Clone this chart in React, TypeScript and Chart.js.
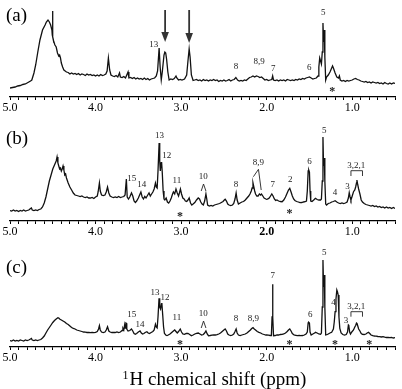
import React, { useEffect, useRef } from "react";
import { Chart, registerables } from "chart.js";

Chart.register(...registerables);

const SERIF = '"Liberation Serif", "Times New Roman", serif';

type Pt = [number, number];
type Label = [string, number, number];

// ---- Spectrum (a): [ppm, intensity] ----
const specA: Pt[] = [
  [5.0, 9], [4.97, 9.5], [4.94, 10], [4.91, 11], [4.88, 11.5], [4.85, 12.5], [4.82, 13], [4.79, 14.5],
  [4.76, 16], [4.745, 17], [4.72, 24], [4.7, 32], [4.675, 45], [4.65, 57], [4.62, 67], [4.59, 72],
  [4.575, 75], [4.556, 77], [4.54, 75], [4.525, 72], [4.51, 67], [4.506, 62], [4.503, 86], [4.499, 60],
  [4.49, 56], [4.475, 52], [4.46, 50], [4.445, 44], [4.43, 41], [4.42, 42], [4.41, 39], [4.4, 34],
  [4.385, 30], [4.37, 27], [4.355, 26], [4.34, 25], [4.32, 24.5], [4.3, 23], [4.28, 24], [4.26, 23],
  [4.24, 23.5], [4.22, 22.5], [4.2, 23.5], [4.18, 22], [4.16, 23], [4.14, 22.5], [4.12, 21.5], [4.1, 23],
  [4.08, 22], [4.06, 22.5], [4.04, 21.5], [4.02, 22], [4.0, 21], [3.98, 22], [3.96, 21], [3.94, 22.5],
  [3.92, 21.5], [3.9, 22], [3.88, 23], [3.865, 26], [3.85, 39], [3.835, 27], [3.82, 22], [3.8, 21],
  [3.78, 20.5], [3.76, 21.5], [3.74, 20], [3.72, 24], [3.71, 20], [3.69, 19.5], [3.67, 20.5], [3.65, 19],
  [3.62, 25], [3.61, 19], [3.59, 19.5], [3.57, 18.5], [3.55, 19.5], [3.53, 18], [3.51, 19], [3.49, 18],
  [3.47, 18.5], [3.45, 17.5], [3.43, 19], [3.41, 17.5], [3.39, 18.5], [3.37, 17], [3.35, 18], [3.33, 18.5],
  [3.31, 19], [3.29, 21], [3.275, 26], [3.257, 49], [3.245, 30], [3.232, 17], [3.22, 25], [3.2, 42],
  [3.19, 45], [3.18, 44], [3.17, 38], [3.155, 25], [3.14, 17], [3.12, 18], [3.1, 17.5], [3.08, 18.5],
  [3.06, 21], [3.05, 19], [3.03, 17], [3.01, 17.5], [2.99, 17], [2.96, 18], [2.935, 22], [2.92, 36],
  [2.906, 48], [2.895, 40], [2.88, 22], [2.86, 16.5], [2.84, 17], [2.82, 17.5], [2.8, 16.5], [2.78, 17],
  [2.76, 16], [2.74, 17.5], [2.72, 16.5], [2.7, 17], [2.68, 16], [2.66, 17], [2.64, 16.5], [2.62, 17.5],
  [2.6, 16.5], [2.58, 17], [2.56, 15.5], [2.54, 16.5], [2.52, 16], [2.5, 17], [2.48, 16], [2.46, 16.5],
  [2.44, 17.5], [2.42, 16], [2.4, 17], [2.38, 17.5], [2.36, 19.5], [2.34, 17], [2.32, 16], [2.3, 16.5],
  [2.28, 16], [2.26, 17], [2.24, 16.5], [2.22, 18], [2.2, 19.5], [2.18, 20], [2.16, 21], [2.14, 20],
  [2.12, 21], [2.1, 20.5], [2.08, 19.5], [2.06, 20], [2.04, 18.5], [2.02, 17], [2.0, 17.5], [1.98, 16.5],
  [1.96, 17], [1.94, 17.5], [1.93, 21], [1.92, 17], [1.9, 16.5], [1.88, 17], [1.86, 16], [1.84, 17],
  [1.82, 16.5], [1.8, 17], [1.78, 16], [1.76, 17.5], [1.74, 17], [1.72, 16.5], [1.7, 17], [1.68, 16.5],
  [1.66, 17.5], [1.64, 17], [1.62, 18], [1.6, 17.5], [1.58, 18.5], [1.56, 18], [1.54, 19], [1.52, 19.5],
  [1.5, 20], [1.48, 19], [1.46, 18], [1.44, 18.5], [1.42, 19], [1.4, 21], [1.39, 30], [1.38, 39],
  [1.37, 36], [1.36, 33], [1.35, 45], [1.342, 74], [1.335, 55], [1.327, 67], [1.32, 40], [1.31, 17],
  [1.3, 20], [1.28, 22], [1.26, 25], [1.24, 29], [1.23, 31], [1.22, 29], [1.2, 24], [1.18, 20],
  [1.16, 19], [1.15, 21], [1.14, 17], [1.12, 16], [1.1, 16.5], [1.08, 15.5], [1.06, 16.5], [1.04, 16],
  [1.02, 16.5], [1.0, 17], [0.98, 18], [0.96, 18.5], [0.94, 17.5], [0.92, 17], [0.9, 16], [0.88, 15.5],
  [0.86, 15], [0.84, 15.5], [0.82, 14.5], [0.8, 15], [0.78, 14], [0.76, 15], [0.74, 14.5], [0.72, 14],
  [0.7, 14.5], [0.68, 13.5], [0.66, 14], [0.64, 13], [0.62, 14.5], [0.6, 13.5], [0.58, 13], [0.56, 14],
  [0.54, 13], [0.52, 14], [0.5, 13.5],
];
const labelsA: Label[] = [
  ["13", 3.32, 52.5], ["8", 2.357, 30], ["8,9", 2.088, 35], ["7", 1.924, 28], ["6", 1.503, 29], ["5", 1.34, 84],
];
const starsA: Pt[] = [[1.234, 8]];
// [ppm, top, tip]
const arrowsA: [number, number, number][] = [[3.187, 87, 55], [2.906, 87, 54]];

// ---- Spectrum (b) ----
const specB: Pt[] = [
  [5.0, 10.5], [4.98, 10], [4.96, 11], [4.94, 10], [4.92, 10.5], [4.9, 9.5], [4.88, 10.5], [4.86, 10],
  [4.84, 11], [4.82, 10], [4.8, 10.5], [4.78, 11], [4.76, 12.5], [4.75, 13], [4.74, 11], [4.72, 10.5],
  [4.7, 11], [4.68, 10.5], [4.66, 11.5], [4.64, 12], [4.62, 14], [4.6, 18], [4.58, 24], [4.56, 32],
  [4.54, 40], [4.52, 46], [4.5, 52], [4.48, 56], [4.47, 58], [4.46, 60], [4.45, 64], [4.44, 58],
  [4.43, 55], [4.42, 52], [4.41, 53], [4.4, 50], [4.39, 52], [4.38, 55], [4.37, 51], [4.36, 46],
  [4.35, 47], [4.34, 43], [4.32, 38], [4.3, 34], [4.28, 31], [4.26, 28], [4.24, 26], [4.22, 25.5],
  [4.2, 25], [4.18, 24.5], [4.16, 25], [4.14, 24], [4.12, 23.5], [4.1, 24], [4.08, 23], [4.06, 23],
  [4.04, 23.5], [4.02, 22.5], [4.0, 24], [3.98, 25], [3.97, 29], [3.955, 38], [3.945, 30], [3.93, 26],
  [3.91, 25.5], [3.89, 26], [3.875, 29], [3.86, 34], [3.845, 28], [3.83, 25], [3.81, 24], [3.79, 23.5],
  [3.77, 24], [3.75, 23.5], [3.73, 24.5], [3.71, 23.5], [3.69, 24], [3.67, 24.5], [3.655, 26], [3.64, 42],
  [3.63, 24], [3.615, 22], [3.6, 24], [3.58, 28], [3.565, 25], [3.55, 20], [3.535, 18.5], [3.52, 20],
  [3.5, 23], [3.485, 26], [3.47, 29], [3.455, 24], [3.44, 22], [3.425, 24.5], [3.41, 23], [3.39, 26],
  [3.375, 28], [3.36, 25], [3.345, 27], [3.33, 29], [3.315, 32], [3.3, 38], [3.29, 34], [3.28, 33],
  [3.27, 50], [3.257, 78], [3.25, 60], [3.243, 50], [3.235, 58], [3.228, 59], [3.22, 48], [3.21, 30],
  [3.2, 22], [3.19, 21], [3.175, 23], [3.16, 19], [3.145, 18], [3.13, 20], [3.115, 23], [3.1, 27],
  [3.09, 29], [3.075, 27], [3.06, 32], [3.045, 28], [3.03, 25], [3.02, 28], [3.008, 32], [2.995, 27],
  [2.98, 23], [2.965, 22], [2.95, 20], [2.935, 19.5], [2.92, 21], [2.906, 23], [2.89, 18], [2.875, 16],
  [2.86, 17], [2.84, 18.5], [2.82, 21], [2.8, 23], [2.785, 22], [2.77, 19], [2.755, 17], [2.74, 16],
  [2.725, 20], [2.71, 27], [2.7, 22], [2.69, 16], [2.67, 15], [2.65, 15.5], [2.63, 15], [2.61, 16],
  [2.59, 16.5], [2.57, 17], [2.55, 17.5], [2.53, 18.5], [2.51, 19.5], [2.495, 21], [2.485, 21.7], [2.47, 20],
  [2.455, 17], [2.44, 16], [2.42, 15.5], [2.4, 16], [2.385, 17.5], [2.37, 22], [2.357, 28], [2.345, 21],
  [2.33, 17], [2.31, 18], [2.29, 19], [2.27, 19.5], [2.25, 21], [2.23, 23], [2.21, 25], [2.195, 27],
  [2.18, 30], [2.17, 33], [2.16, 38], [2.15, 34], [2.14, 30], [2.13, 27], [2.115, 25], [2.1, 25],
  [2.085, 27], [2.07, 26], [2.06, 27], [2.045, 25], [2.03, 23], [2.01, 22], [2.0, 21.7], [1.985, 22],
  [1.97, 23], [1.955, 25], [1.94, 27], [1.925, 25], [1.91, 22], [1.895, 20.5], [1.88, 21], [1.86, 20],
  [1.84, 19.5], [1.82, 19.3], [1.8, 21], [1.78, 24], [1.76, 28], [1.745, 31], [1.73, 32.7], [1.715, 29],
  [1.7, 25], [1.685, 22], [1.67, 20.5], [1.65, 19.5], [1.63, 19], [1.61, 18.3], [1.59, 18.5], [1.57, 19],
  [1.55, 19.3], [1.535, 20], [1.525, 30], [1.515, 50], [1.508, 51], [1.5, 49], [1.493, 30], [1.485, 20],
  [1.47, 19.5], [1.45, 21], [1.43, 22.7], [1.41, 21.5], [1.39, 21], [1.37, 21], [1.36, 22], [1.35, 40],
  [1.342, 84], [1.335, 55], [1.327, 63], [1.32, 40], [1.31, 17], [1.3, 16], [1.28, 17.5], [1.26, 18],
  [1.24, 19], [1.22, 19.5], [1.2, 20.3], [1.18, 19], [1.16, 18], [1.14, 17.5], [1.12, 18], [1.1, 17.5],
  [1.08, 18], [1.06, 19], [1.045, 23], [1.035, 28.3], [1.025, 24], [1.015, 21], [1.0, 25], [0.985, 29.3],
  [0.97, 31], [0.96, 34], [0.95, 38], [0.945, 41], [0.935, 36], [0.925, 32], [0.91, 27], [0.895, 21],
  [0.88, 19], [0.86, 17.5], [0.84, 16.5], [0.82, 16], [0.8, 15.5], [0.78, 15], [0.76, 15.5], [0.74, 14.5],
  [0.72, 15], [0.7, 14], [0.68, 14.5], [0.66, 13.5], [0.64, 14], [0.62, 13], [0.6, 14], [0.58, 13],
  [0.56, 13.5], [0.54, 12.5], [0.52, 13.5], [0.5, 12.5],
];
const labelsB: Label[] = [
  ["15", 3.577, 42.7], ["14", 3.46, 36], ["13", 3.254, 85], ["12", 3.167, 65], ["11", 3.05, 40],
  ["10", 2.74, 44], ["8", 2.357, 36], ["8,9", 2.096, 58.3], ["7", 1.928, 36], ["2", 1.725, 41.7],
  ["6", 1.5, 59.3], ["5", 1.327, 90.3], ["4", 1.2, 28.3], ["3", 1.055, 34.3], ["3,2,1", 0.953, 55],
];
const starsB: Pt[] = [[3.012, 7], [1.733, 10.3]];
// inverted-V markers: [left ppm, apex ppm, right ppm, apex h, left h, right h]
const caretsB: number[][] = [
  [2.765, 2.738, 2.71, 37, 30, 30],
  [2.155, 2.096, 2.064, 51.7, 44.3, 31],
];
// brackets: [left ppm, right ppm, h, end h]
const bracketsB: number[][] = [[1.015, 0.88, 50.3, 45]];

// ---- Spectrum (c) ----
const specC: Pt[] = [
  [5.0, 6.5], [4.98, 6], [4.96, 7], [4.94, 6], [4.92, 6.5], [4.9, 6], [4.88, 7], [4.86, 6.5],
  [4.84, 6], [4.82, 7], [4.8, 6.5], [4.78, 7], [4.76, 8], [4.75, 8.5], [4.74, 7], [4.72, 6.5],
  [4.7, 7], [4.68, 6.5], [4.66, 7], [4.64, 7.5], [4.62, 9], [4.6, 11], [4.58, 14], [4.56, 17],
  [4.54, 19.5], [4.52, 22], [4.5, 24.5], [4.48, 26.5], [4.46, 28], [4.44, 29.3], [4.43, 29], [4.42, 28],
  [4.41, 27.5], [4.4, 27], [4.39, 26.5], [4.37, 25.5], [4.36, 25], [4.34, 23.5], [4.32, 22.5], [4.3, 21],
  [4.28, 19.5], [4.26, 18.7], [4.24, 18], [4.22, 17], [4.2, 16.5], [4.18, 16], [4.16, 15.5], [4.14, 15],
  [4.12, 14.8], [4.1, 14.5], [4.08, 14.5], [4.06, 14.3], [4.04, 14.5], [4.02, 14.3], [4.0, 14.7], [3.98, 15.5],
  [3.965, 18], [3.955, 21.3], [3.945, 17], [3.93, 15], [3.91, 14.5], [3.89, 15], [3.875, 17], [3.86, 20.3],
  [3.845, 16], [3.83, 15], [3.81, 14.5], [3.79, 14.7], [3.77, 14.5], [3.75, 15], [3.73, 14.5], [3.71, 15],
  [3.69, 16.5], [3.68, 18.7], [3.67, 17], [3.66, 22], [3.655, 19], [3.645, 24], [3.64, 23.7], [3.635, 18],
  [3.62, 16], [3.6, 16.5], [3.58, 18], [3.565, 16], [3.55, 13.5], [3.535, 12.7], [3.52, 13.5], [3.5, 15],
  [3.48, 16], [3.465, 14], [3.45, 13], [3.435, 13.5], [3.42, 14.5], [3.4, 15.3], [3.385, 14], [3.37, 13.5],
  [3.35, 14.5], [3.33, 15.5], [3.315, 17], [3.3, 22.7], [3.29, 20], [3.28, 19], [3.27, 30], [3.258, 48.7],
  [3.25, 40], [3.24, 38], [3.23, 43], [3.225, 44], [3.215, 32], [3.205, 20], [3.195, 13.7], [3.18, 12],
  [3.165, 11.5], [3.15, 12], [3.13, 13], [3.11, 14.5], [3.09, 16], [3.075, 17], [3.06, 15.5], [3.045, 14],
  [3.03, 15.5], [3.01, 18], [2.995, 15], [2.98, 13], [2.96, 12.7], [2.94, 13.5], [2.92, 13.7], [2.9, 12.5],
  [2.88, 11.3], [2.86, 12], [2.84, 13], [2.82, 13.7], [2.8, 14], [2.78, 13], [2.76, 12], [2.74, 12.5],
  [2.725, 14], [2.71, 16], [2.695, 13], [2.68, 11.3], [2.66, 11.5], [2.64, 11.8], [2.62, 12], [2.6, 12],
  [2.58, 12.3], [2.56, 13], [2.54, 14], [2.52, 15.5], [2.5, 17], [2.485, 18], [2.47, 16], [2.455, 13],
  [2.44, 12], [2.42, 11.5], [2.4, 12], [2.385, 13], [2.37, 15.5], [2.357, 18], [2.345, 14], [2.33, 12],
  [2.31, 11.5], [2.29, 12], [2.27, 12.5], [2.25, 13], [2.23, 14], [2.21, 15.5], [2.19, 17], [2.175, 18.5],
  [2.16, 19.3], [2.145, 18], [2.13, 17], [2.11, 15.5], [2.09, 14.7], [2.07, 14], [2.05, 13], [2.03, 12.5],
  [2.01, 12], [2.0, 12], [1.98, 11.8], [1.96, 11.5], [1.945, 11.5], [1.937, 30], [1.932, 62.7], [1.926, 30],
  [1.92, 11.3], [1.9, 11.5], [1.88, 12], [1.86, 12], [1.84, 12.5], [1.82, 12.7], [1.8, 13], [1.78, 14],
  [1.76, 15.5], [1.745, 17], [1.73, 18], [1.715, 16], [1.7, 13.5], [1.68, 12], [1.66, 11.7], [1.64, 11.3],
  [1.62, 11.5], [1.6, 11.3], [1.58, 11.5], [1.56, 12], [1.54, 13], [1.525, 15], [1.515, 24], [1.508, 24.7],
  [1.5, 24], [1.493, 15], [1.48, 12], [1.46, 13], [1.44, 14], [1.43, 14.7], [1.41, 14], [1.39, 13],
  [1.37, 12.7], [1.36, 14], [1.35, 40], [1.342, 87], [1.335, 60], [1.327, 72], [1.32, 40], [1.31, 12],
  [1.29, 12.5], [1.27, 13.5], [1.25, 14.5], [1.24, 14.7], [1.22, 18], [1.21, 25], [1.2, 35.3], [1.19, 48],
  [1.18, 57], [1.172, 55], [1.164, 52], [1.155, 30], [1.145, 18.7], [1.13, 14], [1.11, 12.5], [1.09, 12],
  [1.07, 12.5], [1.055, 15], [1.045, 22], [1.04, 21.5], [1.03, 15], [1.02, 13], [1.005, 15], [0.985, 17],
  [0.97, 20], [0.96, 21.5], [0.95, 24], [0.945, 23.7], [0.935, 21], [0.925, 18], [0.91, 16], [0.895, 13.5],
  [0.88, 12.7], [0.86, 12.5], [0.84, 13], [0.825, 14], [0.81, 14.7], [0.795, 13.5], [0.78, 12], [0.76, 11.3],
  [0.74, 11], [0.72, 10.8], [0.7, 10.5], [0.68, 10.3], [0.66, 10], [0.64, 10.3], [0.62, 9.8], [0.6, 9.5],
  [0.58, 9.7], [0.56, 9.3], [0.54, 9.5], [0.52, 9], [0.5, 9.3],
];
const labelsC: Label[] = [
  ["15", 3.577, 32], ["14", 3.48, 22.7], ["13", 3.304, 54.3], ["12", 3.187, 49.7], ["11", 3.05, 29.3],
  ["10", 2.74, 33], ["8", 2.357, 28], ["8,9", 2.155, 28], ["7", 1.928, 71.3], ["6", 1.49, 32],
  ["5", 1.327, 94.7], ["4", 1.22, 44.7], ["3", 1.074, 26], ["3,2,1", 0.953, 40.3],
];
const starsC: Pt[] = [[3.012, 5.3], [1.733, 5.3], [1.2, 5.3], [0.8, 5.3]];
const caretsC: number[][] = [[2.765, 2.738, 2.71, 26, 19, 19]];
const bracketsC: number[][] = [[1.015, 0.88, 35.3, 30.3]];

const PPM_LOW = 0.5;
const PPM_HIGH = 5.0;
const X_TITLE_SUP = "1";
const X_TITLE = "H chemical shift (ppm)";

interface PanelCfg {
  tag: string;
  tagY: number;
  top: number;
  height: number;
  axisH: number;
  spec: Pt[];
  labels: Label[];
  stars: Pt[];
  carets: number[][];
  brackets: number[][];
  arrows: [number, number, number][];
  boldTwo: boolean;
  xTitle: boolean;
}

const panels: PanelCfg[] = [
  { tag: "(a)", tagY: 16.5, top: 0, height: 120, axisH: 23, spec: specA, labels: labelsA, stars: starsA,
    carets: [], brackets: [], arrows: arrowsA, boldTwo: false, xTitle: false },
  { tag: "(b)", tagY: 19.5, top: 120, height: 125, axisH: 24, spec: specB, labels: labelsB, stars: starsB,
    carets: caretsB, brackets: bracketsB, arrows: [], boldTwo: true, xTitle: false },
  { tag: "(c)", tagY: 23.5, top: 245, height: 144, axisH: 42, spec: specC, labels: labelsC, stars: starsC,
    carets: caretsC, brackets: bracketsC, arrows: [], boldTwo: false, xTitle: true },
];

function drawMarks(chart: any, p: PanelCfg) {
  const { ctx } = chart;
  const xs = chart.scales.x;
  const ys = chart.scales.y;
  const X = (v: number) => xs.getPixelForValue(v);
  const Y = (v: number) => ys.getPixelForValue(v);
  ctx.save();
  ctx.fillStyle = "#222";
  ctx.strokeStyle = "#222";

  // peak numbers
  ctx.font = `9px ${SERIF}`;
  ctx.textAlign = "center";
  ctx.textBaseline = "middle";
  for (const [t, ppm, h] of p.labels) ctx.fillText(t, X(ppm), Y(h));

  // asterisks under artefact signals
  ctx.font = `bold 12px ${SERIF}`;
  ctx.textBaseline = "alphabetic";
  for (const [ppm, h] of p.stars) ctx.fillText("*", X(ppm), Y(h) + 6);

  // inverted-V pointers
  ctx.lineWidth = 0.9;
  for (const [a, apex, b, hTop, hA, hB] of p.carets) {
    ctx.beginPath();
    ctx.moveTo(X(a), Y(hA));
    ctx.lineTo(X(apex), Y(hTop));
    ctx.lineTo(X(b), Y(hB));
    ctx.stroke();
  }

  // brackets over multiplets
  for (const [a, b, h, hEnd] of p.brackets) {
    ctx.beginPath();
    ctx.moveTo(X(a), Y(hEnd));
    ctx.lineTo(X(a), Y(h));
    ctx.lineTo(X(b), Y(h));
    ctx.lineTo(X(b), Y(hEnd));
    ctx.stroke();
  }

  // downward arrows
  ctx.fillStyle = "#333";
  ctx.strokeStyle = "#333";
  for (const [ppm, hTop, hTip] of p.arrows) {
    const x = X(ppm);
    const tip = Y(hTip);
    ctx.lineWidth = 1.8;
    ctx.beginPath();
    ctx.moveTo(x, Y(hTop));
    ctx.lineTo(x, tip - 7);
    ctx.stroke();
    ctx.beginPath();
    ctx.moveTo(x - 3.8, tip - 10);
    ctx.lineTo(x + 3.8, tip - 10);
    ctx.lineTo(x, tip);
    ctx.closePath();
    ctx.fill();
  }

  // panel tag
  ctx.fillStyle = "#000";
  ctx.font = `19px ${SERIF}`;
  ctx.textAlign = "left";
  ctx.textBaseline = "middle";
  ctx.fillText(p.tag, 6, p.tagY);

  // axis title with superscript mass number
  if (p.xTitle) {
    const y = 133;
    ctx.font = `19px ${SERIF}`;
    const wMain = ctx.measureText(X_TITLE).width;
    ctx.font = `12px ${SERIF}`;
    const wSup = ctx.measureText(X_TITLE_SUP).width;
    const cx = 214.5;
    const left = cx - (wMain + wSup + 1) / 2;
    ctx.textBaseline = "alphabetic";
    ctx.fillText(X_TITLE_SUP, left, y + 0.5);
    ctx.font = `19px ${SERIF}`;
    ctx.fillText(X_TITLE, left + wSup + 1, y + 6.5);
  }
  ctx.restore();
}

function Panel({ cfg }: { cfg: PanelCfg }) {
  const ref = useRef<HTMLCanvasElement>(null);
  useEffect(() => {
    const canvas = ref.current;
    if (!canvas) return;
    const yMax = cfg.height - cfg.axisH;
    const chart = new Chart(canvas, {
      type: "line",
      data: {
        datasets: [
          {
            data: cfg.spec.map(([x, y]) => ({ x, y })),
            borderColor: "#111",
            borderWidth: 1.3,
            pointRadius: 0,
            tension: 0,
            fill: false,
          },
        ],
      },
      options: {
        responsive: false,
        animation: false,
        devicePixelRatio: 1,
        events: [],
        layout: { padding: { left: 10, right: 7, top: 0, bottom: 0 } },
        plugins: { legend: { display: false }, tooltip: { enabled: false }, title: { display: false } },
        scales: {
          x: {
            type: "linear",
            reverse: true,
            min: PPM_LOW,
            max: PPM_HIGH,
            afterFit: (s: any) => {
              s.height = cfg.axisH;
            },
            ticks: {
              stepSize: 0.1,
              autoSkip: false,
              maxRotation: 0,
              padding: 1,
              color: "#000",
              font: (c: any) => ({
                family: SERIF,
                size: 12,
                weight: cfg.boldTwo && c.tick && Math.abs(c.tick.value - 2) < 1e-6 ? "bold" : "normal",
              }),
              callback: (v: any) => {
                const n = Number(v);
                return Math.abs(n - Math.round(n)) < 1e-6 ? n.toFixed(1) : "";
              },
            },
            grid: { drawOnChartArea: false, drawTicks: true, tickLength: 3, color: "#000", lineWidth: 1 },
            border: { display: true, color: "#000", width: 1.3 },
          },
          y: { display: false, min: 0, max: yMax },
        },
      } as any,
      plugins: [{ id: "marks", afterDatasetsDraw: (c: any) => drawMarks(c, cfg) }],
    });
    return () => chart.destroy();
  }, [cfg]);
  return (
    <canvas
      ref={ref}
      width={402}
      height={cfg.height}
      style={{ position: "absolute", left: 0, top: cfg.top, width: 402, height: cfg.height }}
    />
  );
}

export default function App() {
  return (
    <div style={{ position: "absolute", left: 0, top: 0, width: 402, height: 389, background: "#fff" }}>
      {panels.map((p) => (
        <Panel key={p.tag} cfg={p} />
      ))}
    </div>
  );
}
